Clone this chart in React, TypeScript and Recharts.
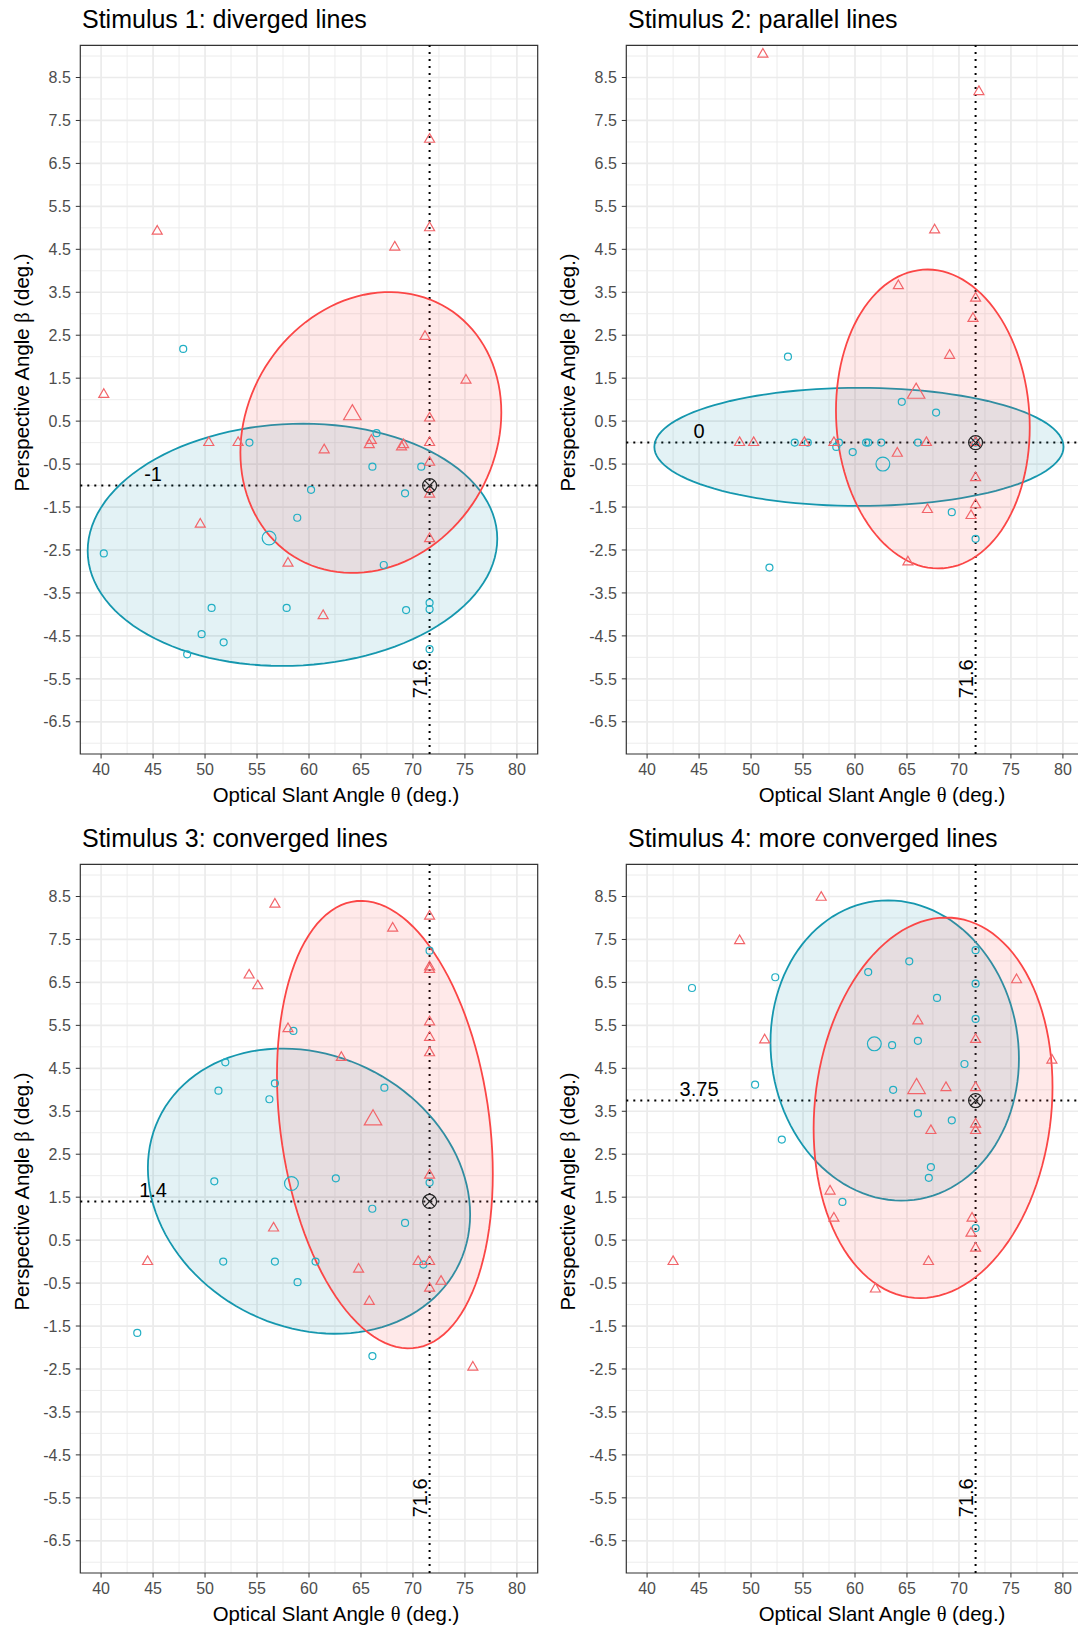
import React from 'react';
import { ScatterChart, Scatter, XAxis, YAxis, CartesianGrid, ReferenceLine, ReferenceArea } from 'recharts';

type Pt = [number, number];
// ellipse: centre theta, centre beta, half-width (theta), half-height (beta), correlation
type Ell = [number, number, number, number, number];

const TEAL = '#22afc4';
const TEAL_LINE = '#1597ae';
const RED = '#f2656a';
const RED_LINE = '#fb4646';
const FONT = '"Liberation Sans", Arial, Helvetica, sans-serif';

const panelTitles = [
  'Stimulus 1: diverged lines',
  'Stimulus 2: parallel lines',
  'Stimulus 3: converged lines',
  'Stimulus 4: more converged lines',
];

const thetaRef = 71.6;
const betaRefs = [-1, 0, 1.4, 3.75];
const betaRefLabels = ['-1', '0', '1.4', '3.75'];
const refLabelTheta = 45;
const thetaLabelBeta = -5.5;

const thetaDomain = [38, 82];
const betaDomain = [-7.25, 9.25];
const thetaTicks = [40, 45, 50, 55, 60, 65, 70, 75, 80];
const thetaMinor = [42.5, 47.5, 52.5, 57.5, 62.5, 67.5, 72.5, 77.5];
const betaTicks = [-6.5, -5.5, -4.5, -3.5, -2.5, -1.5, -0.5, 0.5, 1.5, 2.5, 3.5, 4.5, 5.5, 6.5, 7.5, 8.5];
const betaMinor = [-7, -6, -5, -4, -3, -2, -1, 0, 1, 2, 3, 4, 5, 6, 7, 8, 9];

// Stimulus 1
const teal1: Pt[] = [
  [47.9, 2.18], [54.27, 0], [66.5, 0.22], [66.1, -0.56], [70.8, -0.56], [60.2, -1.1], [69.24, -1.18],
  [58.87, -1.75], [40.26, -2.58], [67.19, -2.85], [71.6, -3.73], [71.6, -3.88], [50.63, -3.85],
  [57.85, -3.85], [69.34, -3.9], [49.67, -4.46], [51.79, -4.65], [48.28, -4.93], [71.6, -4.81],
];
const red1: Pt[] = [
  [45.4, 4.92], [71.6, 7.06], [71.6, 5.0], [68.25, 4.55], [71.16, 2.47], [75.1, 1.45], [40.26, 1.12],
  [71.6, 0.57], [50.36, 0], [53.18, 0], [65.8, -0.05], [66.0, 0.05], [61.46, -0.17], [68.9, -0.1],
  [69.1, -0.05], [71.6, 0], [71.6, -0.46], [71.6, -1.2], [49.54, -1.9], [71.6, -2.24], [57.98, -2.81],
  [61.36, -4.03],
];

// Stimulus 2
const teal2: Pt[] = [
  [53.55, 2.0], [64.5, 0.95], [67.8, 0.7], [54.2, 0], [55.46, 0], [58.2, -0.1], [58.46, 0], [61.07, 0],
  [61.27, 0], [62.52, 0], [66.05, 0], [59.78, -0.22], [71.6, 0], [69.31, -1.62], [71.6, -2.24],
  [51.77, -2.91],
];
const red2: Pt[] = [
  [51.14, 9.04], [71.92, 8.17], [67.66, 4.95], [64.17, 3.65], [71.6, 3.36], [71.35, 2.89], [69.1, 2.03],
  [48.9, 0], [50.25, 0], [55.13, 0], [57.97, 0], [66.87, 0], [64.07, -0.25], [71.6, 0], [71.6, -0.82],
  [71.6, -1.45], [66.97, -1.56], [71.16, -1.7], [65.09, -2.78],
];

// Stimulus 3
const teal3: Pt[] = [
  [71.6, 7.24], [58.5, 5.37], [51.95, 4.64], [51.29, 3.98], [56.72, 4.15], [56.19, 3.78], [67.25, 4.05],
  [50.89, 1.87], [62.58, 1.94], [71.6, 1.84], [66.09, 1.23], [69.24, 0.9], [51.75, 0], [56.72, 0],
  [60.63, 0], [71.0, -0.07], [58.9, -0.48], [43.48, -1.66], [66.1, -2.2],
];
const red3: Pt[] = [
  [56.72, 8.32], [71.6, 8.04], [68.05, 7.76], [71.6, 6.86], [71.6, 6.8], [54.24, 6.67], [55.07, 6.42],
  [71.6, 5.58], [71.6, 5.22], [71.6, 4.86], [57.98, 5.42], [63.11, 4.75], [71.6, 2.01], [56.59, 0.78],
  [44.47, 0], [70.5, 0], [71.6, 0], [64.77, -0.18], [72.7, -0.46], [71.6, -0.62], [65.8, -0.93],
  [75.76, -2.46],
];

// Stimulus 4
const teal4: Pt[] = [
  [44.32, 6.37], [52.33, 6.62], [61.27, 6.74], [65.22, 6.99], [71.6, 7.25], [71.6, 6.47], [67.89, 6.14],
  [71.6, 5.65], [63.57, 5.04], [66.05, 5.14], [70.53, 4.6], [50.39, 4.12], [63.67, 4.0], [66.05, 3.45],
  [69.31, 3.29], [52.96, 2.84], [67.3, 2.2], [67.1, 1.95], [58.79, 1.39], [71.6, 0.78],
];
const red4: Pt[] = [
  [56.75, 8.48], [48.9, 7.47], [75.54, 6.56], [66.05, 5.6], [51.31, 5.16], [71.6, 5.17], [78.94, 4.69],
  [68.75, 4.05], [71.6, 4.05], [71.6, 3.2], [71.6, 3.05], [67.3, 3.05], [57.6, 1.64], [57.97, 1.01],
  [71.26, 1.01], [71.16, 0.66], [71.6, 0.31], [42.5, 0], [67.07, 0], [61.96, -0.64],
];

const tealPoints = [teal1, teal2, teal3, teal4];
const redPoints = [red1, red2, red3, red4];

const tealMeans: Pt[] = [[56.16, -2.22], [62.68, -0.5], [58.31, 1.82], [61.86, 5.07]];
const redMeans: Pt[] = [[64.17, 0.65], [65.88, 1.15], [66.16, 3.3], [65.92, 4.03]];

const tealEllipses: Ell[] = [
  [58.41, -2.38, 19.7, 2.82, 0.05],
  [60.38, -0.1, 19.68, 1.375, 0.0],
  [60.0, 1.64, 15.5, 3.32, -0.163],
  [63.82, 4.915, 11.95, 3.495, -0.054],
];
const redEllipses: Ell[] = [
  [65.95, 0.235, 12.55, 3.27, 0.143],
  [67.49, 0.55, 9.32, 3.48, -0.056],
  [67.3, 3.19, 10.38, 5.21, -0.22],
  [67.51, 3.58, 11.49, 4.43, 0.11],
];

function ellipseOutline(e: Ell) {
  const [cx, cy, rx, ry, rho] = e;
  const k = Math.sqrt(1 - rho * rho);
  const out: { x: number; y: number }[] = [];
  for (let i = 0; i <= 120; i++) {
    const t = (i / 120) * Math.PI * 2;
    out.push({ x: cx + rx * Math.cos(t), y: cy + ry * (rho * Math.cos(t) + k * Math.sin(t)) });
  }
  return out;
}

const rows = (pts: Pt[]) => pts.map(([x, y]) => ({ x, y }));

const noDot = () => <g />;

const ellipseLine = (color: string) => (p: any) => {
  const pts: { x: number; y: number }[] = p.points || [];
  const d = pts.map((q, i) => `${i ? 'L' : 'M'}${q.x},${q.y}`).join(' ') + ' Z';
  return <path d={d} fill={color} fillOpacity={0.12} stroke={color} strokeWidth={1.8} />;
};

const circleShape = (r: number) => (p: any) => (
  <circle cx={p.cx} cy={p.cy} r={r} fill="none" stroke={TEAL} strokeWidth={1.2} />
);

const triangleShape = (s: number) => (p: any) => {
  const h = s * 0.866;
  const d = `M${p.cx},${p.cy - (2 * h) / 3} L${p.cx + s / 2},${p.cy + h / 3} L${p.cx - s / 2},${p.cy + h / 3} Z`;
  return <path d={d} fill="none" stroke={RED} strokeWidth={1.2} />;
};

const crossShape = (p: any) => {
  const r = 7;
  const q = r * 0.707;
  return (
    <g stroke="#222" strokeWidth={1.2} fill="none">
      <circle cx={p.cx} cy={p.cy} r={r} />
      <line x1={p.cx - q} y1={p.cy - q} x2={p.cx + q} y2={p.cy + q} />
      <line x1={p.cx - q} y1={p.cy + q} x2={p.cx + q} y2={p.cy - q} />
    </g>
  );
};

const betaLabelShape = (label: string) => (p: any) => (
  <text x={p.cx} y={p.cy - 4.5} textAnchor="middle" fontSize={20} fill="#000" fontFamily={FONT}>
    {label}
  </text>
);

const thetaLabelShape = (p: any) => {
  const bx = p.cx - 2.5;
  return (
    <text x={bx} y={p.cy} transform={`rotate(-90 ${bx} ${p.cy})`} textAnchor="middle" fontSize={20} fill="#000" fontFamily={FONT}>
      {String(thetaRef)}
    </text>
  );
};

const tickStyle = { fill: '#4d4d4d', fontSize: 16, fontFamily: FONT };

function Panel({ idx }: { idx: number }) {
  const col = idx % 2;
  const row = Math.floor(idx / 2);
  return (
    <div style={{ position: 'absolute', left: col * 546.2, top: row * 818.7, width: 546, height: 819 }}>
      <ScatterChart width={546} height={819} margin={{ top: 45.3, right: 8.3, bottom: 35, left: 30.3 }}>
        <CartesianGrid verticalValues={thetaMinor} horizontalValues={betaMinor} stroke="#ebebeb" strokeWidth={0.9} />
        <CartesianGrid verticalValues={thetaTicks} horizontalValues={betaTicks} stroke="#ebebeb" strokeWidth={1.7} />
        <XAxis
          type="number"
          dataKey="x"
          domain={thetaDomain}
          ticks={thetaTicks}
          interval={0}
          allowDataOverflow
          height={30}
          axisLine={false}
          tickLine={{ stroke: '#333' }}
          tickSize={4.5}
          tickMargin={5.5}
          tick={tickStyle}
        />
        <YAxis
          type="number"
          dataKey="y"
          domain={betaDomain}
          ticks={betaTicks}
          interval={0}
          allowDataOverflow
          width={50}
          axisLine={false}
          tickLine={{ stroke: '#333' }}
          tickSize={4.5}
          tickMargin={5}
          tick={tickStyle}
        />
        <Scatter
          data={ellipseOutline(tealEllipses[idx])}
          shape={noDot}
          line={ellipseLine(TEAL_LINE)}
          lineType="joint"
          isAnimationActive={false}
        />
        <Scatter
          data={ellipseOutline(redEllipses[idx])}
          shape={noDot}
          line={ellipseLine(RED_LINE)}
          lineType="joint"
          isAnimationActive={false}
        />
        <ReferenceLine x={thetaRef} stroke="#000" strokeWidth={2} strokeDasharray="2 5" />
        <ReferenceLine y={betaRefs[idx]} stroke="#000" strokeWidth={2} strokeDasharray="2 5" />
        <Scatter data={rows(tealPoints[idx])} shape={circleShape(3.5)} isAnimationActive={false} />
        <Scatter data={rows(redPoints[idx])} shape={triangleShape(10)} isAnimationActive={false} />
        <Scatter data={rows([tealMeans[idx]])} shape={circleShape(6.9)} isAnimationActive={false} />
        <Scatter data={rows([redMeans[idx]])} shape={triangleShape(17.5)} isAnimationActive={false} />
        <Scatter data={[{ x: thetaRef, y: betaRefs[idx] }]} shape={crossShape} isAnimationActive={false} />
        <Scatter
          data={[{ x: refLabelTheta, y: betaRefs[idx] }]}
          shape={betaLabelShape(betaRefLabels[idx])}
          isAnimationActive={false}
        />
        <Scatter data={[{ x: thetaRef, y: thetaLabelBeta }]} shape={thetaLabelShape} isAnimationActive={false} />
        <ReferenceArea
          x1={thetaDomain[0]}
          x2={thetaDomain[1]}
          y1={betaDomain[0]}
          y2={betaDomain[1]}
          fill="none"
          fillOpacity={0}
          stroke="#333"
          strokeWidth={1.2}
        />
      </ScatterChart>
      <svg
        width={546}
        height={819}
        style={{ position: 'absolute', left: 0, top: 0, pointerEvents: 'none', overflow: 'visible' }}
        fontFamily={FONT}
      >
        <text x={82} y={28} fontSize={25} fill="#000">
          {panelTitles[idx]}
        </text>
        <text x={336} y={802} fontSize={20.4} fill="#000" textAnchor="middle">
          Optical Slant Angle <tspan fontFamily='"Liberation Serif", serif'>θ</tspan> (deg.)
        </text>
        <text x={29} y={372.5} fontSize={20.4} fill="#000" textAnchor="middle" transform="rotate(-90 29 372.5)">
          Perspective Angle <tspan fontFamily='"Liberation Serif", serif'>β</tspan> (deg.)
        </text>
      </svg>
    </div>
  );
}

export default function App() {
  return (
    <div
      style={{
        position: 'absolute',
        left: 0,
        top: 0,
        width: 1078,
        height: 1627,
        overflow: 'hidden',
        background: '#fff',
        fontFamily: FONT,
      }}
    >
      {panelTitles.map((_, i) => (
        <Panel key={i} idx={i} />
      ))}
    </div>
  );
}
